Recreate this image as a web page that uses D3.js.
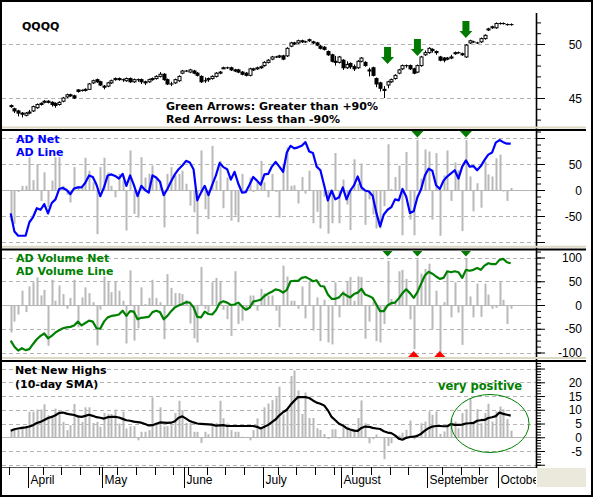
<!DOCTYPE html>
<html>
<head>
<meta charset="utf-8">
<script src="https://cdn.jsdelivr.net/npm/d3@7"></script>
<style>
  body { margin: 0; background: #fff; }
  svg { display: block; font-family: "DejaVu Sans", Verdana, sans-serif; }
  .lbl { font-weight: bold; font-size: 11px; }
  .ax text { font-family: "Liberation Sans", Arial, sans-serif; font-size: 12px; }
</style>
</head>
<body>
<svg id="chart" width="594" height="500"></svg>
<script>
// ===== DATA (trading days, 26 Mar - 4 Oct) =====
const months     = ['April', 'May', 'June', 'July', 'August', 'September', 'October'];
const monthStart = [5, 25, 47, 68, 89, 112, 131];
const weekStart  = [0, 9, 14, 19, 24, 29, 34, 39, 44, 48, 53, 58, 63, 72, 77, 82, 87, 92, 97, 102, 107, 116, 121, 126];

const qOpen = [
    44.3,44.0,43.8,43.6,43.4,43.6,43.8,44.1,44.4,44.6, 44.7,44.6,44.5,44.4,44.7,45.1,45.3,45.2,45.75,45.7,
    45.7,45.8,46.4,46.7,46.5,46.1,46.1,46.4,46.7,46.8, 46.7,46.6,46.8,46.5,46.7,46.7,46.5,46.5,46.7,46.8,
    47.0,47.2,46.7,46.3,46.4,46.6,47.3,47.5,47.4,47.5, 47.3,47.0,46.6,46.7,46.8,47.0,47.3,47.7,47.8,47.8,
    47.6,47.6,47.4,47.3,47.1,47.6,47.7,47.8,48.0,48.3, 48.6,48.8,48.8,48.9,48.9,49.8,50.1,50.1,50.3,50.2,
    50.3,50.2,50.1,49.8,49.7,49.3,49.0,48.4,48.3,48.5, 47.8,48.2,47.9,47.8,48.4,48.3,47.6,47.8,46.8,46.4,
    45.8,46.2,46.5,46.8,47.3,47.7,48.0,48.0,47.7,47.4, 48.0,49.0,49.2,49.5,49.3,48.8,48.7,48.6,48.7,49.1,
    49.2,49.1,48.8,50.1,50.2,50.1,50.2,50.5,51.3,51.5, 51.5,51.9,51.9,51.8,51.8
];
const qHigh = [
    44.4,44.1,43.9,43.7,43.7,43.9,44.3,44.5,44.6,44.8, 44.8,44.7,44.6,44.7,45.1,45.4,45.4,45.3,45.8,45.8,
    45.9,46.4,46.7,46.8,46.6,46.2,46.5,46.7,46.9,46.9, 46.8,46.9,46.9,46.8,46.8,46.8,46.6,46.8,46.9,47.1,
    47.4,47.3,46.8,46.5,46.8,47.1,47.6,47.6,47.7,47.6, 47.4,47.1,46.9,46.9,47.1,47.4,47.5,47.9,47.9,47.9,
    47.7,47.7,47.5,47.4,47.8,47.8,47.9,48.0,48.4,48.6, 48.9,48.9,49.0,49.0,49.7,50.2,50.2,50.4,50.4,50.3,
    50.5,50.3,50.2,49.9,49.8,49.4,49.1,48.9,48.9,48.6, 48.4,48.3,48.1,48.5,48.8,48.4,47.8,47.9,46.9,46.5,
    46.1,46.6,46.8,47.2,47.7,48.1,48.1,48.1,47.8,48.1, 48.9,49.4,49.7,49.6,49.4,48.9,48.8,48.8,49.0,49.3,
    49.3,49.2,50.0,50.4,50.3,50.2,50.6,50.9,51.5,51.7, 52.0,52.0,52.0,51.9,51.9
];
const qLow = [
    44.1,43.6,43.3,43.2,43.3,43.5,43.7,44.0,44.3,44.5, 44.5,44.2,44.1,44.3,44.6,45.0,45.1,44.9,45.5,45.6,
    45.6,45.8,46.3,46.4,46.1,45.8,46.0,46.3,46.6,46.6, 46.5,46.5,46.4,46.4,46.5,46.3,46.2,46.4,46.6,46.7,
    46.9,46.6,46.2,46.1,46.3,46.5,47.2,47.4,47.3,47.2, 47.0,46.4,46.4,46.5,46.7,46.9,47.2,47.7,47.7,47.5,
    47.4,47.3,47.1,47.0,47.0,47.5,47.6,47.7,47.9,48.2, 48.5,48.7,48.7,48.5,48.8,49.7,49.9,50.0,50.1,50.1,
    50.2,50.0,49.8,49.5,49.4,48.9,48.3,48.0,48.2,47.6, 47.7,47.7,47.5,47.7,48.3,47.9,47.0,47.0,46.0,45.6,
    45.0,45.9,46.4,46.7,47.2,47.6,47.8,47.6,47.2,47.3, 47.9,48.9,49.1,49.2,49.0,48.4,48.3,48.5,48.6,49.0,
    49.1,48.9,48.7,50.0,50.1,50.0,50.1,50.4,51.2,51.4, 51.4,51.8,51.8,51.7,51.7
];
const qClose = [
    44.2,43.8,43.6,43.5,43.6,43.7,44.2,44.4,44.5,44.7, 44.6,44.4,44.3,44.6,45.0,45.3,45.2,45.0,45.6,45.7,
    45.8,46.3,46.6,46.5,46.2,46.0,46.4,46.6,46.8,46.7, 46.7,46.8,46.5,46.7,46.7,46.5,46.4,46.7,46.8,47.0,
    47.2,46.7,46.3,46.3,46.7,47.0,47.5,47.5,47.6,47.3, 47.1,46.5,46.6,46.8,47.0,47.3,47.4,47.8,47.8,47.6,
    47.5,47.4,47.2,47.1,47.7,47.7,47.8,47.9,48.3,48.5, 48.8,48.8,48.9,48.6,49.6,50.1,50.0,50.3,50.2,50.2,
    50.4,50.1,49.9,49.6,49.5,49.0,48.4,48.3,48.8,47.8, 48.1,47.9,47.7,48.4,48.7,48.0,47.5,47.1,46.3,45.9,
    45.7,46.5,46.7,47.1,47.6,48.0,48.0,47.7,47.3,48.0, 48.8,49.2,49.6,49.4,49.2,48.5,48.5,48.7,48.8,49.2,
    49.2,49.0,49.9,50.3,50.2,50.1,50.5,50.8,51.4,51.6, 51.9,51.9,51.9,51.8,51.8
];
// price level of the tip of each big green arrow
const arrowTips = [48.15, 48.9, 50.55];

const adNet = [
    -59,-65,-4,8,8,63,19,50,-21,34, -33,18,63,63,8,-9,-24,44,8,8,
    62,37,15,-85,44,62,34,8,-14,31, 18,-78,76,-46,-53,63,24,31,47,24,
    18,-72,31,44,28,31,37,12,-30,-43, -85,76,-37,-56,85,18,56,-35,24,-59,
    -49,-62,31,-4,24,-4,15,56,15,-14, 31,-4,-53,50,82,8,9,-26,25,-7,
    37,-64,-42,-74,-13,-84,-64,71,-64,20, -28,-77,59,12,51,-67,-18,-47,-74,-74,
    -31,88,2,25,47,-87,73,-57,-87,96, 22,78,74,-57,71,-88,28,76,-21,53,
    38,-79,96,26,-41,13,-34,55,30,26, 61,68,-3,-21,4
];
const adLine = [
    -45,-80,-88,-88,-88,-62,-52,-35,-38,-27, -45,-25,-18,2,4,0,-8,3,5,5,
    14,28,25,10,-12,5,28,30,27,22, 31,8,28,10,-12,8,0,-5,28,24,
    16,-10,2,17,30,40,47,56,53,40, -20,-5,8,-10,10,28,52,44,40,20,
    35,12,-5,-4,10,25,18,10,30,31, 45,54,45,35,72,85,80,82,85,92,
    74,71,45,38,9,-20,-1,-18,-14,5, -18,-1,9,26,5,-1,-3,-11,-44,-70,
    -47,-38,-33,-18,-20,2,-13,-44,-41,-14, 2,28,41,37,9,2,18,26,32,38,
    22,45,57,45,46,38,46,58,68,72, 91,96,92,89,89
];
const adVolNet = [
    -58,-35,-20,30,-15,39,48,58,20,32, -86,53,9,41,23,-8,15,53,-47,16,
    37,25,6,-85,-10,60,48,27,50,30, 9,-81,73,-75,-49,37,2,15,53,15,
    6,-72,65,36,25,25,23,10,-39,-70, -79,80,-8,-15,48,57,48,-10,-30,-65,
    71,-40,-33,-12,20,20,-12,34,25,20, 20,-12,-47,83,60,9,9,-8,39,-28,
    50,-54,16,-76,11,-79,-83,48,-26,30, 50,59,9,60,59,-71,-35,6,-76,-79,
    -40,93,13,9,71,74,55,-30,-93,96, 66,76,87,-51,30,-100,6,71,-26,48,
    -16,-84,98,18,-26,45,-25,45,22,-8, -6,48,11,-40,-8
];
const adVolLine = [
    -75,-88,-96,-91,-95,-93,-82,-72,-65,-60, -70,-65,-58,-53,-49,-47,-46,-43,-35,-43,
    -38,-33,-35,-49,-50,-35,-26,-23,-22,-20, -12,-23,-13,-14,-30,-27,-26,-25,-15,-12,
    -15,-30,-23,-13,-5,-1,2,6,5,-5, -25,-26,-14,-19,-20,-11,4,8,5,0,
    1,5,-3,-10,-6,7,9,11,19,24, 28,33,31,26,32,50,51,51,57,59,
    55,50,52,40,39,22,13,13,16,25, 20,16,23,26,34,22,19,15,1,-13,
    -13,-1,4,5,14,25,33,25,15,27, 45,62,70,66,60,55,57,71,69,71,
    69,57,74,72,74,78,74,83,88,86, 86,95,97,90,88
];
const netNewHighs = [
    2.6,2.6,2.6,3.2,3.8,9.3,9.3,10.1,10.1,12.0, 8.0,8.0,10.4,9.3,5.6,2.6,4.4,12.1,8.0,5.6,
    10.9,10.9,5.2,5.6,3.8,8.8,8.5,8.5,10.1,5.0, 9.3,3.2,4.0,4.0,-1.1,2.0,2.0,2.6,14.5,4.8,
    10.9,4.0,4.0,4.4,8.8,13.3,9.9,5.2,5.2,2.0, 2.0,-2.1,2.0,1.1,4.4,5.2,13.3,6.9,5.0,2.6,
    2.0,2.0,0.2,-0.1,-1.1,2.6,6.9,3.2,10.9,12.3, 13.5,14.5,18.4,8.3,9.9,22.3,24.3,17.0,8.5,16.3,
    7.0,7.0,3.3,2.7,1.2,-0.6,2.9,2.9,-0.4,4.9, 3.9,2.9,2.9,7.0,13.4,5.1,-2.2,-0.7,1.0,0.0,
    -8.0,-3.2,-2.2,0.5,0.7,1.7,2.7,6.1,-0.7,1.2, 5.1,5.7,9.4,8.2,9.4,1.2,2.1,3.9,6.6,5.7,
    3.3,8.8,10.2,13.9,5.7,10.2,5.1,8.8,12.2,5.7, 9.4,11.2,10.2,6.6,2.4
];
const nnhSma = [
    2.4,2.9,3.2,3.4,3.6,3.9,4.4,5.2,5.6,6.3, 7.0,7.4,8.0,8.9,9.0,8.6,8.3,8.1,7.6,7.4,
    7.8,8.2,7.8,7.3,7.1,6.8,7.3,7.4,7.4,7.2, 6.7,6.2,6.0,5.7,5.5,5.3,4.8,4.3,4.4,4.9,
    5.4,5.3,5.2,5.3,5.8,7.1,7.6,6.8,5.9,5.4, 5.0,4.9,4.8,4.7,4.6,4.2,4.3,4.4,4.1,4.1,
    4.1,4.1,4.1,4.1,4.1,4.1,3.8,3.2,3.8,4.5, 5.5,6.5,8.0,9.1,10.0,11.8,13.3,14.6,14.6,14.6,
    14.3,13.4,12.6,12.2,11.6,9.8,7.4,6.2,4.9,4.3, 3.3,2.8,2.4,2.3,3.4,3.9,3.8,3.4,3.2,3.0,
    2.2,1.7,1.5,0.7,-0.5,-0.9,-0.2,0.1,0.2,0.5, 1.3,2.4,3.3,3.9,4.1,4.1,4.0,4.0,4.8,4.5,
    4.5,4.6,5.0,5.1,5.2,6.0,6.2,6.3,7.0,7.3, 7.7,9.0,8.5,8.2,7.9
];


// ===== LAYOUT =====
const svg   = d3.select('#chart');
const LEFT  = 2, AXIS_X = 536;
const n     = qClose.length;
const idx   = d3.range(n);

const x = d3.scaleLinear().domain([0, n - 1]).range([10.7, 510.7]);
const px = i => Math.round(x(i)) + 0.5;

const panels = {
    price: { top: 13,  bottom: 127, y: d3.scaleLinear().domain([45, 50]).range([98, 44]) },
    ad:    { top: 131, bottom: 246, y: d3.scaleLinear().domain([-50, 50]).range([216, 164]) },
    vol:   { top: 251, bottom: 357, y: d3.scaleLinear().domain([-100, 100]).range([352.5, 257.5]) },
    nnh:   { top: 362, bottom: 467, y: d3.scaleLinear().domain([-5, 20]).range([451, 382.3]) },
};

const GREEN = '#008000', DARK_GREEN = '#007a00';

// clip each panel to its own box
const defs = svg.append('defs');
Object.entries(panels).forEach(([key, p]) => {
    defs.append('clipPath').attr('id', 'clip-' + key)
        .append('rect')
        .attr('x', LEFT).attr('y', p.top)
        .attr('width', AXIS_X - LEFT).attr('height', p.bottom - p.top);
    p.g = svg.append('g').attr('clip-path', `url(#clip-${key})`);
});

function grid(p, values, zero) {
    values.forEach(v => {
        p.g.append('line')
            .attr('x1', LEFT).attr('x2', AXIS_X)
            .attr('y1', Math.round(p.y(v)) + 0.5).attr('y2', Math.round(p.y(v)) + 0.5)
            .attr('stroke', '#b4b4b4')
            .attr('stroke-dasharray', v === zero ? null : '4,3');
    });
}

function bars(p, values) {
    p.g.selectAll(null)
        .data(idx)
        .join('rect')
        .attr('x', i => Math.round(x(i)) - 0.5)
        .attr('width', 2)
        .attr('y', i => Math.min(p.y(values[i]), p.y(0)))
        .attr('height', i => Math.abs(p.y(values[i]) - p.y(0)))
        .attr('fill', '#b9b9b9');
}

function line(p, values, color) {
    p.g.append('path')
        .datum(idx)
        .attr('d', d3.line().x(i => x(i)).y(i => p.y(values[i])))
        .attr('fill', 'none')
        .attr('stroke', color)
        .attr('stroke-width', 2.2)
        .attr('stroke-linejoin', 'round');
}

function rightAxis(p, minor, major, labels) {
    const inside = v => p.y(v) >= p.top && p.y(v) <= p.bottom;
    const gMinor = svg.append('g').attr('class', 'ax').attr('transform', `translate(${AXIS_X},0)`)
        .call(d3.axisRight(p.y).tickValues(minor.filter(inside)).tickSize(5).tickFormat(''));
    const gMajor = svg.append('g').attr('class', 'ax').attr('transform', `translate(${AXIS_X},0)`)
        .call(d3.axisRight(p.y).tickValues(major.filter(inside)).tickSize(9).tickFormat(''));
    [gMinor, gMajor].forEach(g => {
        g.select('.domain').remove();
        g.selectAll('line').attr('stroke', '#000');
    });
    svg.append('g').attr('class', 'ax')
        .selectAll('text')
        .data(labels)
        .join('text')
        .attr('x', 582)
        .attr('y', d => p.y(d) + 4.5)
        .attr('text-anchor', 'end')
        .text(d => d);
}

function label(txt, lx, ly, color, size) {
    svg.append('text')
        .attr('class', 'lbl')
        .attr('x', lx).attr('y', ly)
        .attr('fill', color)
        .style('font-size', size ? size + 'px' : null)
        .text(txt);
}


// ===== PANEL 1: QQQQ candles =====
const P1 = panels.price;
grid(P1, [45, 50]);

const candle = P1.g.selectAll('g.candle').data(idx).join('g').attr('class', 'candle');
candle.append('line')
    .attr('x1', px).attr('x2', px)
    .attr('y1', i => P1.y(qHigh[i])).attr('y2', i => P1.y(qLow[i]))
    .attr('stroke', '#000');
candle.append('rect')
    .attr('x', i => px(i) - 1.5)
    .attr('width', 3)
    .attr('y', i => P1.y(Math.max(qOpen[i], qClose[i])))
    .attr('height', i => Math.max(Math.abs(P1.y(qOpen[i]) - P1.y(qClose[i])), 0.1))
    .attr('fill', i => qClose[i] < qOpen[i] ? '#000' : '#fff')
    .attr('stroke', '#000');

// big green arrows on days with AD Volume Net above +90
const bigUp = idx.filter(i => adVolNet[i] >= 90);
P1.g.selectAll('path.arrow')
    .data(bigUp)
    .join('path')
    .attr('class', 'arrow')
    .attr('d', (i, k) => {
        const cx = x(i), tip = P1.y(arrowTips[k]);
        return `M${cx - 3.5},${tip - 17} H${cx + 3.5} V${tip - 7} H${cx + 6.5} L${cx},${tip} L${cx - 6.5},${tip - 7} H${cx - 3.5} Z`;
    })
    .attr('fill', DARK_GREEN);

rightAxis(P1, d3.range(42, 54, 1), [45, 50], [50, 45]);
label('QQQQ', 22, 30, '#000');
label('Green Arrows: Greater than +90%', 166, 110, '#000');
label('Red Arrows: Less than -90%', 166, 123, '#000');


// ===== PANEL 2: AD Net / AD Line =====
const P2 = panels.ad;
grid(P2, [100, 50, 0, -50, -100], 0);
bars(P2, adNet);
line(P2, adLine, '#0000ff');
P2.g.selectAll('path.tri')
    .data(idx.filter(i => adNet[i] >= 90))
    .join('path')
    .attr('d', i => `M${x(i) - 6},${P2.top} H${x(i) + 6} L${x(i)},${P2.top + 6.5} Z`)
    .attr('fill', DARK_GREEN);
rightAxis(P2, d3.range(-125, 126, 12.5), [-100, -50, 0, 50, 100], [50, 0, -50]);
label('AD Net', 16, 142.5, '#0000ff');
label('AD Line', 16, 155.5, '#0000ff');


// ===== PANEL 3: AD Volume Net / AD Volume Line =====
const P3 = panels.vol;
grid(P3, [100, 50, 0, -50, -100], 0);
bars(P3, adVolNet);
line(P3, adVolLine, GREEN);
P3.g.selectAll('path.up')
    .data(idx.filter(i => adVolNet[i] >= 90))
    .join('path')
    .attr('d', i => `M${x(i) - 6},${P3.top - 1} H${x(i) + 6} L${x(i)},${P3.top + 5.5} Z`)
    .attr('fill', DARK_GREEN);
P3.g.selectAll('path.dn')
    .data(idx.filter(i => adVolNet[i] <= -90))
    .join('path')
    .attr('d', i => `M${x(i) - 6.5},${P3.bottom + 1} H${x(i) + 6.5} L${x(i)},${P3.bottom - 6} Z`)
    .attr('fill', '#ff0000');
rightAxis(P3, d3.range(-125, 126, 12.5), [-100, -50, 0, 50, 100], [100, 50, 0, -50, -100]);
label('AD Volume Net', 16, 261.5, GREEN);
label('AD Volume Line', 16, 275, GREEN);


// ===== PANEL 4: Net New Highs =====
const P4 = panels.nnh;
grid(P4, [25, 20, 15, 10, 5, 0, -5, -10], 0);
bars(P4, netNewHighs);
line(P4, nnhSma, '#000');
rightAxis(P4, d3.range(-11, 28, 1), [-10, -5, 0, 5, 10, 15, 20, 25], [20, 15, 10, 5, 0, -5]);
label('Net New Highs', 15, 374, '#000');
label('(10-day SMA)', 15, 387.5, '#000');

// "very positive" call-out
svg.append('ellipse')
    .attr('cx', 490).attr('cy', 423.5).attr('rx', 39).attr('ry', 29)
    .attr('fill', 'none').attr('stroke', GREEN);
label('very positive', 438, 389.5, GREEN, 11.5);


// ===== X AXIS (months / weeks) =====
svg.append('line')
    .attr('x1', LEFT).attr('x2', AXIS_X).attr('y1', 467.5).attr('y2', 467.5)
    .attr('stroke', '#555');

const tickX = i => Math.round(x(i - 0.45)) + 0.5;
svg.append('g').selectAll('line')
    .data(weekStart)
    .join('line')
    .attr('x1', tickX).attr('x2', tickX)
    .attr('y1', 467).attr('y2', 475)
    .attr('stroke', '#000');
svg.append('g').selectAll('line')
    .data(monthStart)
    .join('line')
    .attr('x1', tickX).attr('x2', tickX)
    .attr('y1', 467).attr('y2', 488)
    .attr('stroke', '#000');

defs.append('clipPath').attr('id', 'clip-x')
    .append('rect').attr('x', 0).attr('y', 468).attr('width', AXIS_X).attr('height', 30);
svg.append('g').attr('class', 'ax').attr('clip-path', 'url(#clip-x)')
    .selectAll('text')
    .data(monthStart)
    .join('text')
    .attr('x', i => tickX(i) + 2)
    .attr('y', 484)
    .text((i, k) => months[k]);

// beige filler right of the date axis
svg.append('rect')
    .attr('x', 537).attr('y', 468).attr('width', 49).attr('height', 19)
    .attr('fill', '#ebe9dc');


// ===== FRAME: right axis line, panel separators, outer border =====
svg.append('line')
    .attr('x1', AXIS_X + 0.5).attr('x2', AXIS_X + 0.5)
    .attr('y1', 13).attr('y2', 468)
    .attr('stroke', '#000').attr('stroke-width', 1.6);

[[127.5, 130], [246.8, 249.5], [358, 361]].forEach(([beige, black]) => {
    svg.append('line')
        .attr('x1', LEFT).attr('x2', 586).attr('y1', beige).attr('y2', beige)
        .attr('stroke', '#dcd8c4').attr('stroke-width', 2);
    svg.append('line')
        .attr('x1', LEFT).attr('x2', 586).attr('y1', black).attr('y2', black)
        .attr('stroke', '#000').attr('stroke-width', 1.8);
});

svg.append('rect')
    .attr('x', 1).attr('y', 1).attr('width', 591).attr('height', 495)
    .attr('fill', 'none').attr('stroke', '#000').attr('stroke-width', 2);
</script>
</body>
</html>
